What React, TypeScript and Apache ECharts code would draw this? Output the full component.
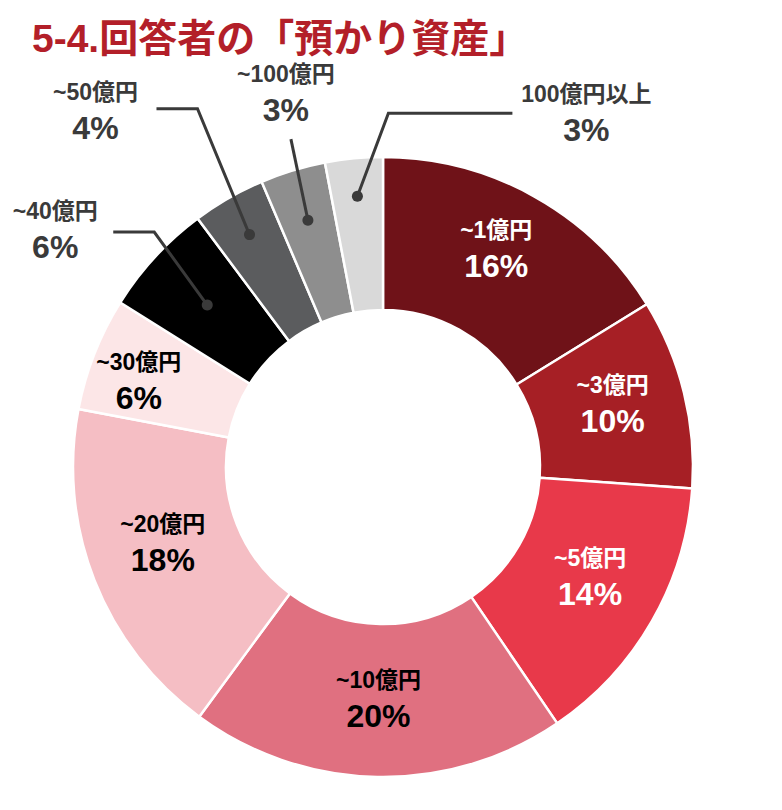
import * as echarts from 'echarts';
import type { ECharts, EChartsOption } from 'echarts';
import React, { useEffect, useRef } from 'react';

const categories = ['~1億円', '~3億円', '~5億円', '~10億円', '~20億円', '~30億円', '~40億円', '~50億円', '~100億円', '100億円以上'];
const shares = [16.2, 9.9, 14.4, 19.6, 17.9, 5.9, 5.9, 3.8, 3.4, 3.0];
const sliceColors = ['#6F1218', '#A61F25', '#E8394A', '#E07080', '#F5BEC4', '#FCE6E7', '#000000', '#5B5C5E', '#8E8E8E', '#D9D9D9'];
const insideTextColors = ['#ffffff', '#ffffff', '#ffffff', '#000000', '#000000', '#000000'];

const FONT = '"Liberation Sans", "Noto Sans CJK JP", sans-serif';
const CX = 383;
const CY = 467;
const R0 = 157;
const R = 310;
const OUT_TEXT = '#3A3A3A';

// nudges for the labels drawn inside the ring
const insideShift: [number, number][] = [[-2, -11], [0, -6], [2, -8], [0, -4], [0, -10], [-24, 0]];

// leader lines for the small slices: dot radius, elbow offset from dot, horizontal arm, label offset from line end
const leaders = [
  { index: 6, dotR: 239, elbow: [-53, -73], arm: -41, label: [-58, -2] },
  { index: 7, dotR: 268, elbow: [-52, -126], arm: -41, label: [-61, 2] },
  { index: 8, dotR: 258, elbow: [-17, -81], arm: 0, label: [-5, -46] },
  { index: 9, dotR: 272, elbow: [31, -83], arm: 124, label: [74, 0] },
];

const rich = {
  n: { fontSize: 23, fontWeight: 'bold' as const, fontFamily: FONT, lineHeight: 34 },
  p: { fontSize: 32, fontWeight: 'bold' as const, fontFamily: FONT, lineHeight: 38 },
};

const pct = (v: number) => `${Math.round(v)}%`;

const App: React.FC = () => {
  const chartRef = useRef<HTMLDivElement>(null);
  const chartInstance = useRef<ECharts | null>(null);

  useEffect(() => {
    if (!chartRef.current) return;
    chartInstance.current = echarts.init(chartRef.current, undefined, { renderer: 'svg' });

    const total = shares.reduce((a, b) => a + b, 0);
    let acc = 0;
    const midAngles = shares.map((v) => {
      const m = (acc + v / 2) / total;
      acc += v;
      return ((90 - m * 360) * Math.PI) / 180;
    });

    const graphics: any[] = [];
    leaders.forEach((l) => {
      const a = midAngles[l.index];
      const dot = [CX + l.dotR * Math.cos(a), CY - l.dotR * Math.sin(a)];
      const elbow = [dot[0] + l.elbow[0], dot[1] + l.elbow[1]];
      const end = [elbow[0] + l.arm, elbow[1]];
      graphics.push({
        type: 'polyline',
        shape: { points: [dot, elbow, end] },
        style: { stroke: OUT_TEXT, lineWidth: 3, fill: 'none' },
        z: 10,
      });
      graphics.push({
        type: 'circle',
        shape: { cx: dot[0], cy: dot[1], r: 5.5 },
        style: { fill: OUT_TEXT },
        z: 10,
      });
      graphics.push({
        type: 'text',
        x: end[0] + l.label[0],
        y: end[1] + l.label[1],
        style: {
          text: `{n|${categories[l.index]}}\n{p|${pct(shares[l.index])}}`,
          rich,
          fill: OUT_TEXT,
          align: 'center',
          verticalAlign: 'middle',
        },
        z: 10,
      });
    });

    const option: EChartsOption = {
      animation: false,
      title: {
        text: '5-4.回答者の「預かり資産」',
        left: 27,
        top: 14,
        textStyle: { fontSize: 39, fontWeight: 'bold', color: '#B31F29', fontFamily: FONT },
      },
      graphic: graphics,
      series: [
        {
          type: 'pie',
          center: [CX, CY],
          radius: [R0, R],
          startAngle: 90,
          clockwise: true,
          avoidLabelOverlap: false,
          itemStyle: { borderColor: '#ffffff', borderWidth: 2.5 },
          label: {
            show: true,
            position: 'inside',
            formatter: (p: any) => `{n|${p.name}}\n{p|${pct(p.value)}}`,
            rich,
          },
          labelLine: { show: false },
          labelLayout: (params: any) => {
            const s = insideShift[params.dataIndex];
            return s ? { dx: s[0], dy: s[1] } : {};
          },
          emphasis: { disabled: true },
          data: categories.map((name, i) => ({
            name,
            value: shares[i],
            itemStyle: { color: sliceColors[i] },
            label: i < insideTextColors.length
              ? { show: true, color: insideTextColors[i] }
              : { show: false },
          })),
        },
      ],
    };

    chartInstance.current.setOption(option);

    return () => {
      if (chartInstance.current) {
        chartInstance.current.dispose();
        chartInstance.current = null;
      }
    };
  }, []);

  return (
    <div
      ref={chartRef}
      style={{ position: 'absolute', left: 0, top: 0, width: '782px', height: '810px', background: '#ffffff' }}
    />
  );
};

export default App;
